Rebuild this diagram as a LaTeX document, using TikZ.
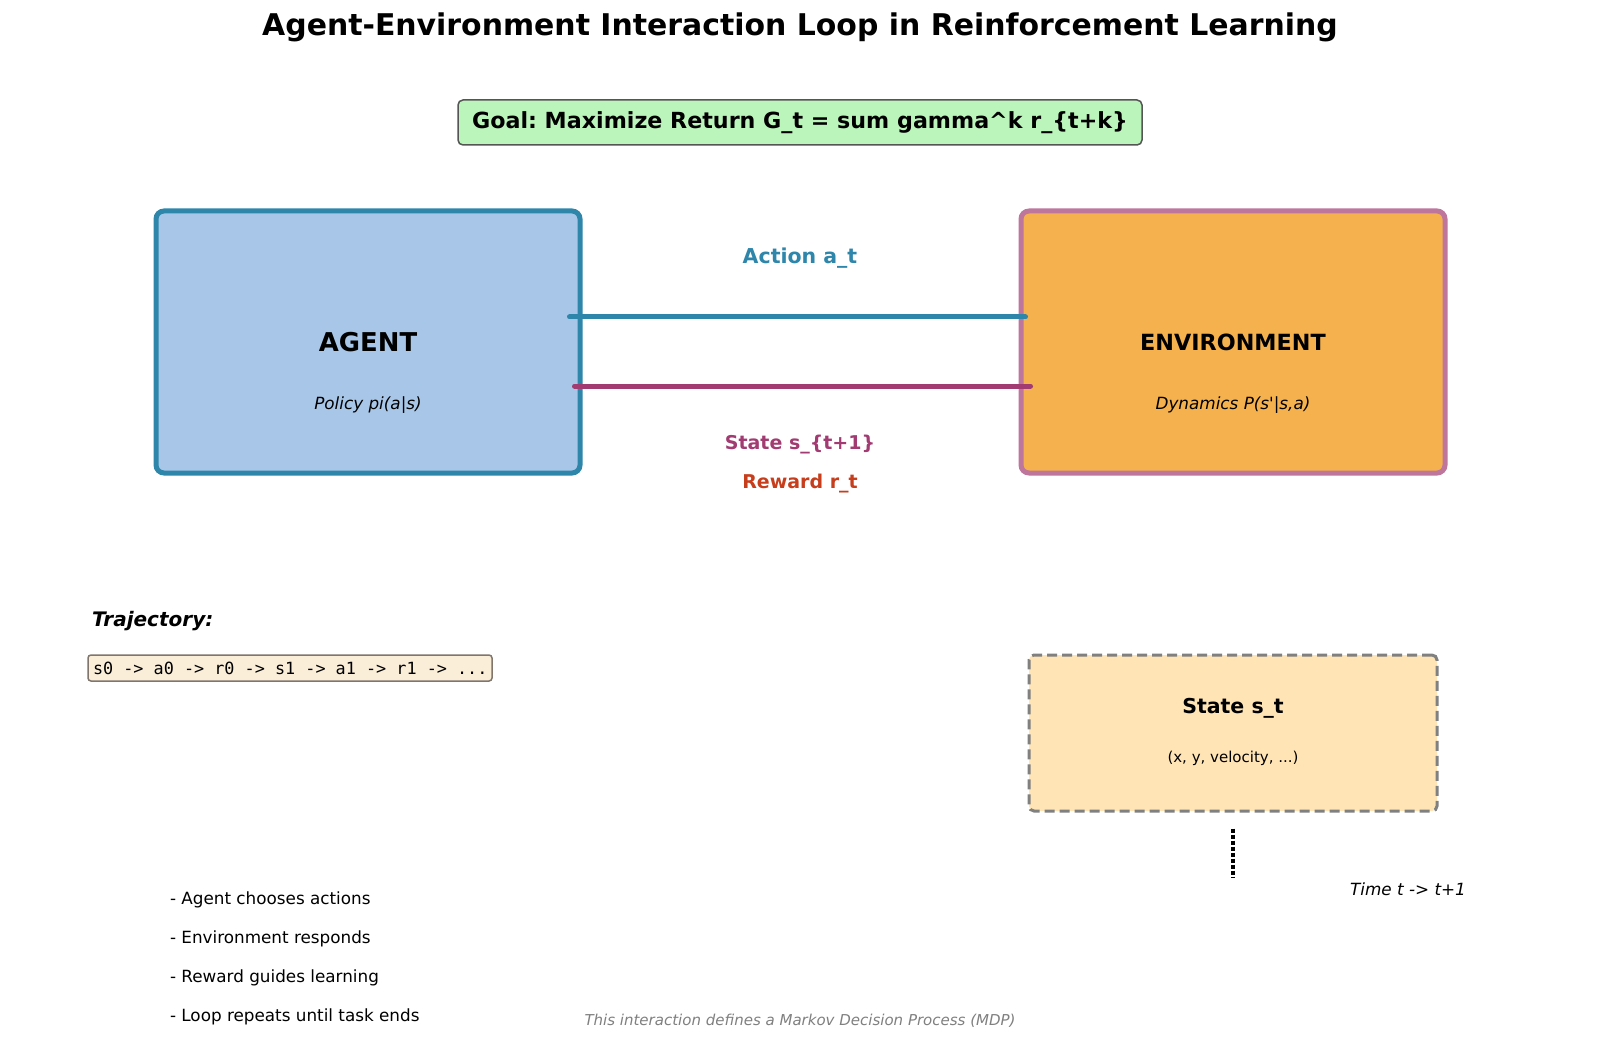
\documentclass[tikz,border=0pt]{standalone}
\usepackage{fontspec}
\setmainfont{DejaVu Sans}
\setmonofont{DejaVu Sans Mono}
\usetikzlibrary{calc}
\frenchspacing
\definecolor{agentfill}{RGB}{168,199,232}
\definecolor{agentdraw}{RGB}{46,134,171}
\definecolor{envfill}{RGB}{245,177,77}
\definecolor{envdraw}{RGB}{190,118,156}
\definecolor{statecol}{RGB}{162,59,114}
\definecolor{rewardcol}{RGB}{199,62,29}
\definecolor{goalfill}{RGB}{188,245,188}
\definecolor{goaldraw}{RGB}{85,85,85}
\definecolor{trajfill}{RGB}{250,238,217}
\definecolor{trajdraw}{RGB}{128,118,108}
\definecolor{stfill}{RGB}{255,228,181}
\definecolor{stdraw}{RGB}{128,128,128}
\definecolor{mdpgray}{RGB}{128,128,128}
\newcommand{\fs}[1]{\fontsize{#1}{#1}\selectfont}
\tikzset{
  bigbox/.style={draw, rectangle, rounded corners=8pt, line width=5pt, inner sep=0pt, minimum width=424pt, minimum height=262pt},
  conn/.style={line width=5pt, line cap=round},
  txt/.style={inner sep=0pt, outer sep=0pt, anchor=center},
  ltxt/.style={inner sep=0pt, outer sep=0pt, anchor=west},
}
\begin{document}
\begin{tikzpicture}[x=1pt, y=-1pt]
\useasboundingbox[fill=white] (0,0) rectangle (1600,1064);
% title
\node[txt, font=\fs{29.9}\bfseries] (title) at (800,27) {Agent-Environment Interaction Loop in Reinforcement Learning};
% goal
\node[draw=goaldraw, fill=goalfill, line width=1.5pt, rounded corners=5pt, minimum width=684pt, minimum height=45pt, inner sep=0pt] (goal) at (800,122.5) {};
\node[txt, font=\fs{22.2}\bfseries] (goaltxt) at (800,122.5) {Goal: Maximize Return G\_t = sum gamma\^{}k r\_\{t+k\}};
% agent and environment
\node[bigbox, draw=agentdraw, fill=agentfill] (agent) at (368,342) {};
\node[bigbox, draw=envdraw, fill=envfill] (env) at (1233,342) {};
\node[txt, font=\fs{25.9}\bfseries] (agentt) at (368,342) {AGENT};
\node[txt, font=\fs{16.8}\itshape] (agents) at (368,405) {Policy pi(a|s)};
\node[txt, font=\fs{22.3}\bfseries] (envt) at (1233,342) {ENVIRONMENT};
\node[txt, font=\fs{16.8}\itshape] (envs) at (1233,405) {Dynamics P(s\textquotesingle|s,a)};
% connectors
\draw[conn, agentdraw] ([shift={(-13,-25)}]agent.east) -- ([shift={(7,-25)}]env.west);
\draw[conn, statecol] ([shift={(-8,44)}]agent.east) -- ([shift={(12,44)}]env.west);
\node[txt, font=\fs{20.5}\bfseries, text=agentdraw] (actlbl) at (800,258) {Action a\_t};
\node[txt, font=\fs{19}\bfseries, text=statecol] (stlbl) at (800,445) {State s\_\{t+1\}};
\node[txt, font=\fs{19}\bfseries, text=rewardcol] (rwlbl) at (800,484) {Reward r\_t};
% trajectory
\node[ltxt, font=\fs{20}\bfseries\itshape] (trajt) at (92,621) {Trajectory:};
\node[draw=trajdraw, fill=trajfill, line width=1.5pt, rounded corners=3pt, minimum width=404pt, minimum height=26pt, inner sep=0pt] (trajbox) at (290,668) {};
\node[ltxt, font=\fs{16.8}\ttfamily] (trajtxt) at (93,668) {s0 -> a0 -> r0 -> s1 -> a1 -> r1 -> ...};
% state box
\node[draw=stdraw, fill=stfill, line width=3pt, dash pattern=on 10pt off 5pt, rounded corners=5pt, minimum width=408pt, minimum height=156pt, inner sep=0pt] (stbox) at (1233,733) {};
\node[txt, font=\fs{20.5}\bfseries] (stt) at (1233,708) {State s\_t};
\node[txt, font=\fs{15}] (sts) at (1233,758) {(x, y, velocity, ...)};
\coordinate (tend) at (1233,878);
\draw[line width=3.2pt, dash pattern=on 4pt off 2pt] ([yshift=-16pt]stbox.south) -- (tend);
\node[txt, font=\fs{16.8}\itshape] (time) at (1408,889) {Time t -> t+1};
% bullets
\node[ltxt, font=\fs{16.8}] (b1) at (170,900) {- Agent chooses actions};
\node[ltxt, font=\fs{16.8}] (b2) at (170,939) {- Environment responds};
\node[ltxt, font=\fs{16.8}] (b3) at (170,978) {- Reward guides learning};
\node[ltxt, font=\fs{16.8}] (b4) at (170,1017) {- Loop repeats until task ends};
\node[txt, font=\fs{15}\itshape, text=mdpgray] (mdp) at (800,1021) {This interaction defines a Markov Decision Process (MDP)};
\end{tikzpicture}
\end{document}
